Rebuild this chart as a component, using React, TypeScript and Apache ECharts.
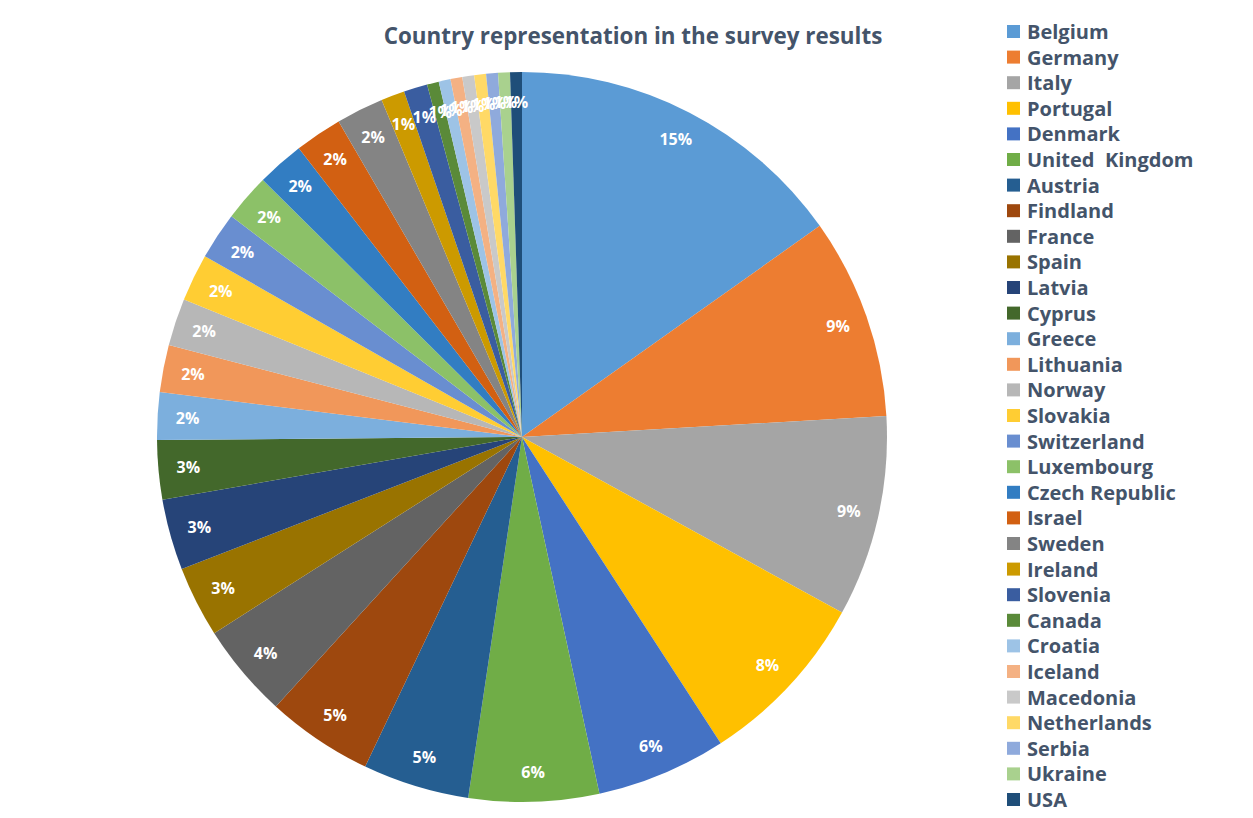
import React, { useEffect, useRef } from "react";
import * as echarts from "echarts";

const countries = [
  "Belgium", "Germany", "Italy", "Portugal", "Denmark", "United  Kingdom", "Austria", "Findland",
  "France", "Spain", "Latvia", "Cyprus", "Greece", "Lithuania", "Norway", "Slovakia",
  "Switzerland", "Luxembourg", "Czech Republic", "Israel", "Sweden", "Ireland", "Slovenia", "Canada",
  "Croatia", "Iceland", "Macedonia", "Netherlands", "Serbia", "Ukraine", "USA",
];
const counts = [
  29, 17, 17, 15, 11, 11, 9, 9,
  8, 6, 6, 5, 4, 4, 4, 4,
  4, 4, 4, 4, 4, 2, 2, 1,
  1, 1, 1, 1, 1, 1, 1,
];
const colors = [
  "#5B9BD5", "#ED7D31", "#A5A5A5", "#FFC000", "#4472C4", "#70AD47", "#255E91", "#9E480E",
  "#636363", "#997300", "#264478", "#43682B", "#7CAFDD", "#F1975A", "#B7B7B7", "#FFCD33",
  "#698ED0", "#8CC168", "#327DC2", "#D26012", "#848484", "#CC9A00", "#3A5DA0", "#5A8A39",
  "#9DC3E6", "#F4B183", "#C9C9C9", "#FFD966", "#8FAADC", "#A9D18E", "#1F4E79",
];
const titleText = "Country representation in the survey results";

export default function App() {
  const ref = useRef<HTMLDivElement>(null);
  useEffect(() => {
    if (!ref.current) return;
    const chart = echarts.init(ref.current, null, { renderer: "svg" });
    const data = countries.map((name, i) => ({
      name,
      value: counts[i],
      itemStyle: { color: colors[i] },
    }));
    chart.setOption({
      animation: false,
      color: colors,
      title: {
        text: titleText,
        left: 628,
        textAlign: "center",
        top: 19,
        textStyle: {
          fontFamily: "Open Sans",
          fontWeight: "bold",
          fontSize: 22.4,
          color: "#44546A",
        },
      },
      legend: {
        orient: "vertical",
        left: 1007,
        top: 21.5,
        bottom: 0,
        padding: 0,
        itemWidth: 13,
        itemHeight: 13,
        itemGap: 5.6,
        icon: "rect",
        data: countries,
        textStyle: {
          fontFamily: "Open Sans",
          fontWeight: "bold",
          fontSize: 20,
          lineHeight: 20,
          color: "#44546A",
          padding: [0, 0, 0, 2],
        },
      },
      series: [
        {
          type: "pie",
          center: [522, 437],
          radius: [0, 365],
          startAngle: 90,
          clockwise: true,
          silent: true,
          label: { show: false },
          labelLine: { show: false },
          data,
        },
        {
          type: "pie",
          center: [522, 437],
          radius: [299, 365],
          startAngle: 90,
          clockwise: true,
          silent: true,
          avoidLabelOverlap: false,
          labelLayout: { hideOverlap: false },
          itemStyle: { color: "rgba(0,0,0,0)" },
          label: {
            show: true,
            position: "inside",
            formatter: (p: any) => Math.round(p.percent) + "%",
            color: "#fff",
            fontFamily: "Open Sans",
            fontWeight: "bold",
            fontSize: 16,
          },
          labelLine: { show: false },
          data: countries.map((name, i) => ({ name, value: counts[i] })),
        },
      ],
    });
    return () => chart.dispose();
  }, []);
  return (
    <div
      ref={ref}
      style={{ position: "fixed", left: 0, top: 0, width: 1253, height: 818, background: "#fff" }}
    />
  );
}
